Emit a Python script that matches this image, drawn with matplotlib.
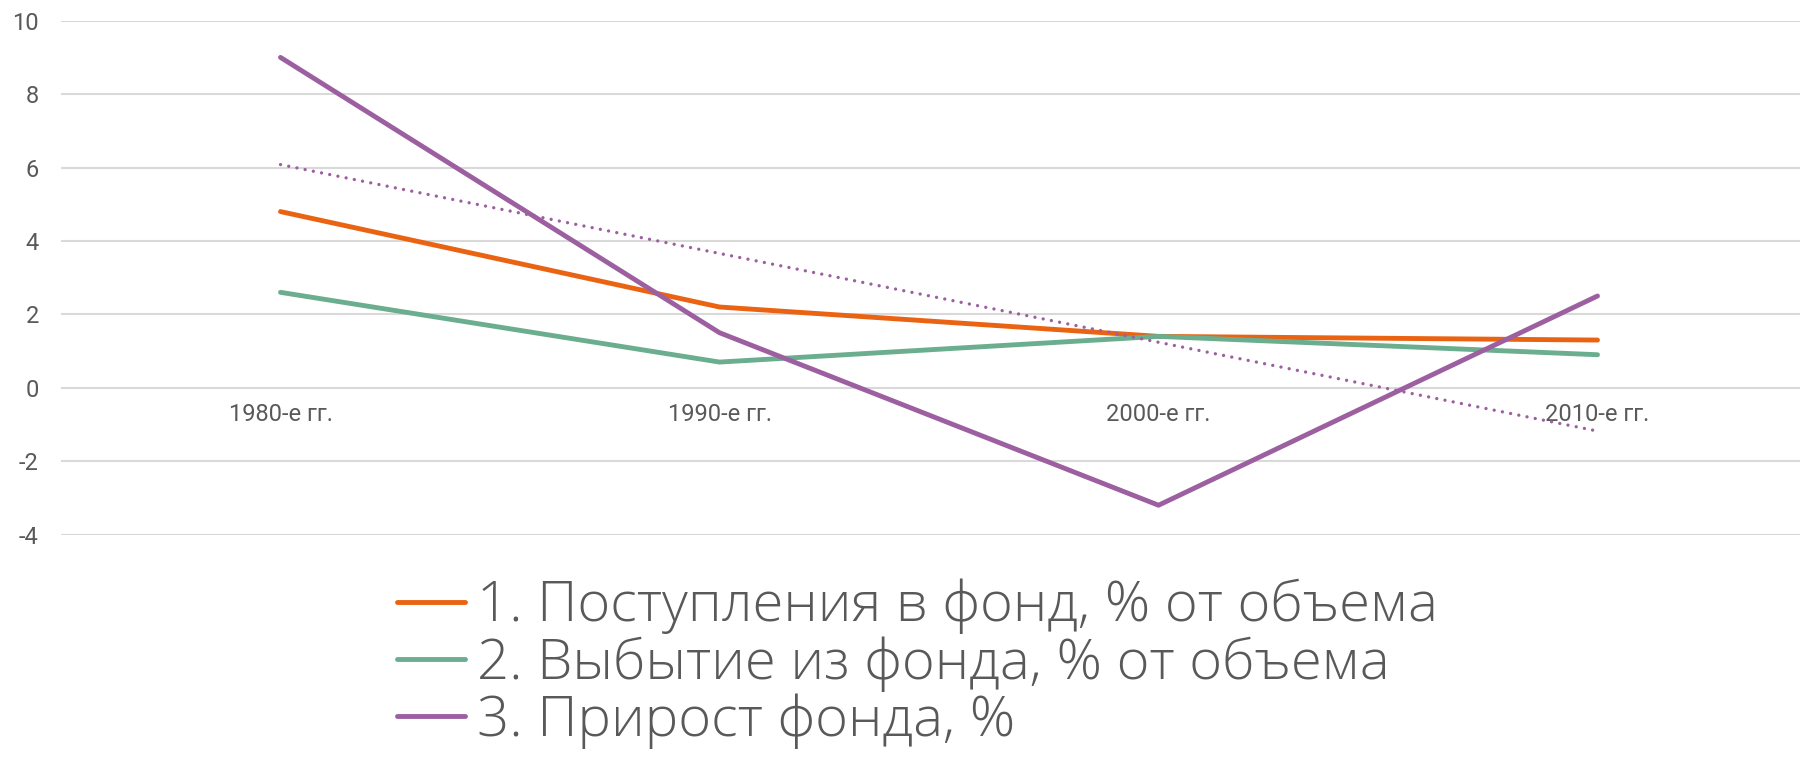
import numpy as np
import matplotlib
matplotlib.use("Agg")
import matplotlib.pyplot as plt

# ---- data ----
categories = ["1980-е гг.", "1990-е гг.", "2000-е гг.", "2010-е гг."]
inflow = [4.8, 2.2, 1.4, 1.3]
outflow = [2.6, 0.7, 1.4, 0.9]
growth = [9.0, 1.5, -3.2, 2.5]
series_names = [
    "1. Поступления в фонд, % от объема",
    "2. Выбытие из фонда, % от объема",
    "3. Прирост фонда, %",
]
y_ticks = [-4, -2, 0, 2, 4, 6, 8, 10]

colors = ["#EA6312", "#6AAE8F", "#9C5FA0"]
text_color = "#595959"
grid_color = "#D9D9D9"

tick_font = ["Liberation Sans Narrow", "Roboto", "DejaVu Sans"]
legend_font = ["Open Sans", "Roboto", "DejaVu Sans"]

fig = plt.figure(figsize=(18, 7.6), dpi=100)
ax = fig.add_axes([61 / 1800, 1 - 534.6 / 760, (1817 - 61) / 1800, (534.6 - 20.7) / 760])

x = np.arange(len(categories))
for vals, name, c in zip([inflow, outflow, growth], series_names, colors):
    ax.plot(x, vals, color=c, lw=3.5, solid_capstyle="round", solid_joinstyle="round",
            label=name, zorder=3)

# linear trendline for growth series
coef = np.polyfit(x, growth, 1)
trend = np.polyval(coef, x[[0, -1]])
ax.plot(x[[0, -1]], trend, color=colors[2], lw=2.4, linestyle=(0, (0.01, 2.5)),
        dash_capstyle="round", zorder=4)

ax.set_xlim(-0.5, 3.5)
ax.set_ylim(-4, 10)
ax.set_yticks(y_ticks)
ax.set_yticklabels([str(v) for v in y_ticks])
ax.grid(axis="y", color=grid_color, lw=1.5, zorder=0)
ax.grid(axis="x", visible=False)
for s in ["top", "right", "left"]:
    ax.spines[s].set_visible(False)
ax.spines["bottom"].set_position(("data", 0))
ax.spines["bottom"].set_visible(False)
ax.set_xticks(x)
ax.set_xticklabels(categories)
ax.tick_params(axis="y", length=0, pad=16, labelcolor=text_color, labelsize=17)
ax.tick_params(axis="x", length=0, pad=11, labelcolor=text_color, labelsize=17)
for lab in ax.get_xticklabels() + ax.get_yticklabels():
    lab.set_family(tick_font)

leg = fig.legend(loc="upper left", bbox_to_anchor=(397 / 1800, 1 - 579 / 760),
                 frameon=False, borderpad=0, borderaxespad=0,
                 handlelength=1.2, handletextpad=0.23, labelspacing=0.03,
                 prop={"family": legend_font, "size": 40.5, "weight": "light"})
for t in leg.get_texts():
    t.set_color(text_color)

fig.savefig("out.png", dpi=100, facecolor="white")
